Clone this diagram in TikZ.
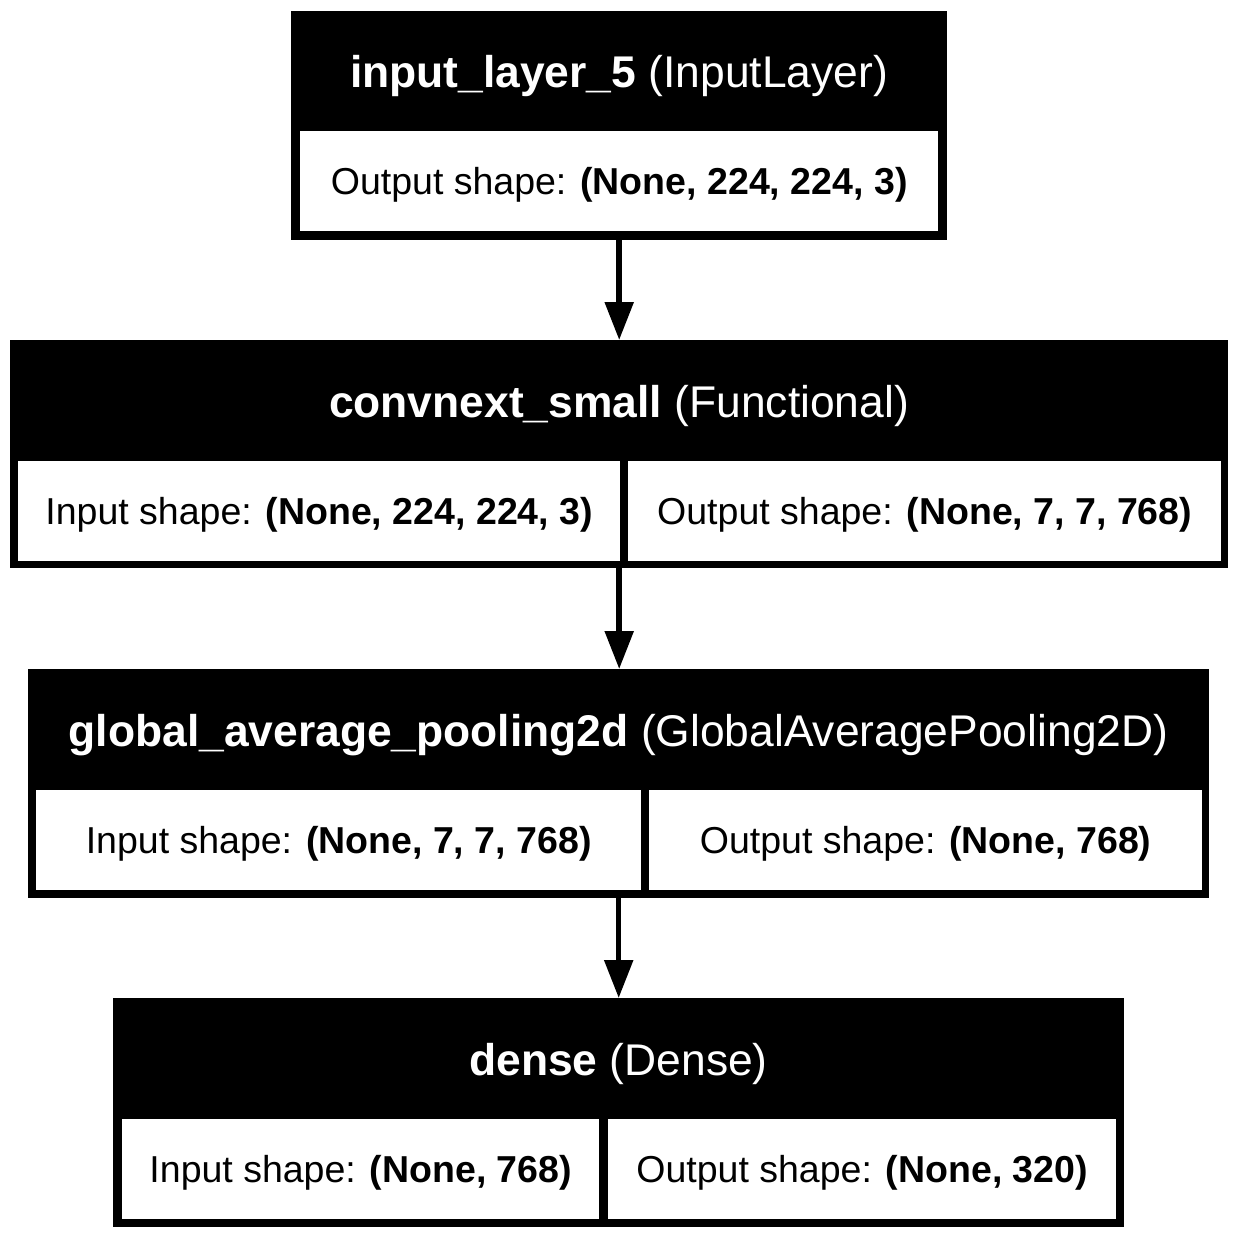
\documentclass[tikz,border=0pt]{standalone}
\usepackage{fontspec}
\setmainfont{Liberation Sans}
\usetikzlibrary{arrows.meta}
\newcommand{\hdfont}{\fontsize{44.4}{48}\selectfont}
\newcommand{\bdfont}{\fontsize{37.5}{40}\selectfont}
\begin{document}
\begin{tikzpicture}[x=1pt,y=-1pt,
  outerbox/.style={fill=black, draw=none, inner sep=0pt, anchor=north west},
  cellbox/.style={fill=white, draw=none, inner sep=0pt, anchor=north west, minimum height=100pt, text height=63pt, text depth=37pt, align=center, font=\bdfont},
  headtext/.style={text=white, inner sep=0pt, anchor=base, font=\hdfont},
  conn/.style={line width=5.5pt, -{Triangle[width=28pt,length=38pt]}}]
\useasboundingbox (0,0) rectangle (1238,1239);
\fill[white] (0,0) rectangle (1238,1239);
% box 1
\node[outerbox, minimum width=656pt, minimum height=229pt] (b1) at (291,11) {};
\node[headtext] (h1) at (619,88) {\textbf{input\_layer\_5} (InputLayer)};
\node[cellbox, minimum width=638pt] (c1) at (300,131) {Output shape: \textbf{(None, 224, 224, 3)}};
% box 2
\node[outerbox, minimum width=1218pt, minimum height=228pt] (b2) at (10,340) {};
\node[headtext] (h2) at (619,417) {\textbf{convnext\_small} (Functional)};
\node[cellbox, minimum width=602pt] (c2a) at (18,461) {Input shape: \textbf{(None, 224, 224, 3)}};
\node[cellbox, minimum width=593pt] (c2b) at (628,461) {Output shape: \textbf{(None, 7, 7, 768)}};
% box 3
\node[outerbox, minimum width=1181pt, minimum height=229pt] (b3) at (28,669) {};
\node[headtext] (h3) at (618.5,746) {\textbf{global\_average\_pooling2d} (GlobalAveragePooling2D)};
\node[cellbox, minimum width=605pt] (c3a) at (36,790) {Input shape: \textbf{(None, 7, 7, 768)}};
\node[cellbox, minimum width=553pt] (c3b) at (649,790) {Output shape: \textbf{(None, 768)}};
% box 4
\node[outerbox, minimum width=1011pt, minimum height=229pt] (b4) at (113,998) {};
\node[headtext] (h4) at (618.5,1075) {\textbf{dense} (Dense)};
\node[cellbox, minimum width=477pt] (c4a) at (122,1119) {Input shape: \textbf{(None, 768)}};
\node[cellbox, minimum width=508pt] (c4b) at (608,1119) {Output shape: \textbf{(None, 320)}};
% connectors
\draw[conn] (b1.south) -- (b2.north);
\draw[conn] (b2.south) -- (b2.south |- b3.north);
\draw[conn] (b3.south) -- (b4.north);
\end{tikzpicture}
\end{document}
